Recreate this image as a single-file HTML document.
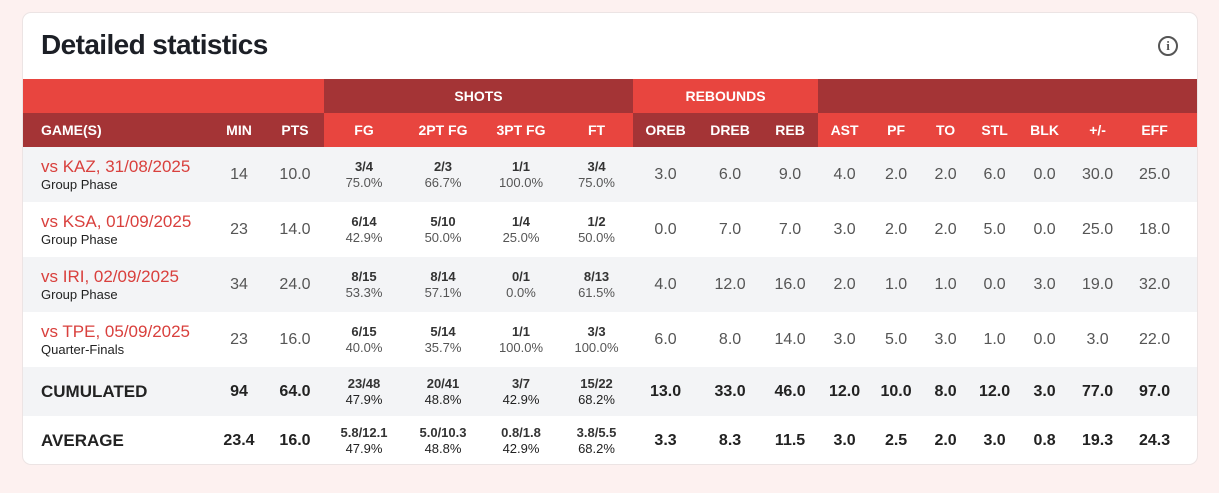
<!DOCTYPE html>
<html><head><style>
body{margin:0;width:1219px;height:493px;background:#fdf1f0;font-family:"Liberation Sans",sans-serif;overflow:hidden}
.card{position:absolute;left:22px;top:12px;width:1176px;height:453px;background:#fff;border:1px solid #ece4e4;border-radius:9px;box-sizing:border-box;overflow:hidden}
h1{position:absolute;left:18px;top:16px;margin:0;font-size:28px;font-weight:bold;color:#1c1f26;letter-spacing:-0.6px}
.info{position:absolute;left:1135px;top:23px;width:16px;height:16px;border:2px solid #555;border-radius:50%;font:bold 13px "Liberation Serif",serif;color:#555;text-align:center;line-height:16px}
table{position:absolute;left:-1px;top:66px;border-collapse:collapse;table-layout:fixed;width:1176px}
td,th{padding:0;text-align:center;color:#555;font-size:16px}
th{color:#fff;font-size:14px;font-weight:bold}
.r1 th{height:34px}.r2 th{height:34px}
.b{background:#e8453f}.d{background:#a43436}
tr.g td{height:55px}
.s{background:#f3f4f6}
.gm{text-align:left;padding-left:19px}
.gm .t{color:#d9403d;font-size:17px}
.gm .p{color:#222;font-size:13px}
.f{font-size:13px;line-height:16px}
.f b{color:#333}
.tot td{height:49px;font-weight:bold;color:#222}
.tot td.f{font-weight:normal}
.tot .gm{font-size:17px}
</style></head><body>
<div class="card">
<h1>Detailed statistics</h1>
<div class="info">i</div>
<table>
<colgroup><col style="width:190px"><col style="width:54px"><col style="width:58px"><col style="width:80px"><col style="width:78px"><col style="width:78px"><col style="width:73px"><col style="width:65px"><col style="width:64px"><col style="width:56px"><col style="width:53px"><col style="width:50px"><col style="width:49px"><col style="width:49px"><col style="width:51px"><col style="width:55px"><col style="width:73px"></colgroup>
<tr class="r1"><th class="b" colspan="3"></th><th class="d" colspan="4">SHOTS</th><th class="b" colspan="3">REBOUNDS</th><th class="d" colspan="7"></th></tr>
<tr class="r2"><th class="d gm">GAME(S)</th><th class="d">MIN</th><th class="d">PTS</th><th class="b">FG</th><th class="b">2PT FG</th><th class="b">3PT FG</th><th class="b">FT</th><th class="d">OREB</th><th class="d">DREB</th><th class="d">REB</th><th class="b">AST</th><th class="b">PF</th><th class="b">TO</th><th class="b">STL</th><th class="b">BLK</th><th class="b">+/-</th><th class="b" style="padding-right:14px">EFF</th></tr>
<tr class="g s"><td class="gm"><div class="t">vs KAZ, 31/08/2025</div><div class="p">Group Phase</div></td><td>14</td><td>10.0</td><td class="f"><b>3/4</b><br>75.0%</td><td class="f"><b>2/3</b><br>66.7%</td><td class="f"><b>1/1</b><br>100.0%</td><td class="f"><b>3/4</b><br>75.0%</td><td>3.0</td><td>6.0</td><td>9.0</td><td>4.0</td><td>2.0</td><td>2.0</td><td>6.0</td><td>0.0</td><td>30.0</td><td style="padding-right:14px">25.0</td></tr>
<tr class="g"><td class="gm"><div class="t">vs KSA, 01/09/2025</div><div class="p">Group Phase</div></td><td>23</td><td>14.0</td><td class="f"><b>6/14</b><br>42.9%</td><td class="f"><b>5/10</b><br>50.0%</td><td class="f"><b>1/4</b><br>25.0%</td><td class="f"><b>1/2</b><br>50.0%</td><td>0.0</td><td>7.0</td><td>7.0</td><td>3.0</td><td>2.0</td><td>2.0</td><td>5.0</td><td>0.0</td><td>25.0</td><td style="padding-right:14px">18.0</td></tr>
<tr class="g s"><td class="gm"><div class="t">vs IRI, 02/09/2025</div><div class="p">Group Phase</div></td><td>34</td><td>24.0</td><td class="f"><b>8/15</b><br>53.3%</td><td class="f"><b>8/14</b><br>57.1%</td><td class="f"><b>0/1</b><br>0.0%</td><td class="f"><b>8/13</b><br>61.5%</td><td>4.0</td><td>12.0</td><td>16.0</td><td>2.0</td><td>1.0</td><td>1.0</td><td>0.0</td><td>3.0</td><td>19.0</td><td style="padding-right:14px">32.0</td></tr>
<tr class="g"><td class="gm"><div class="t">vs TPE, 05/09/2025</div><div class="p">Quarter-Finals</div></td><td>23</td><td>16.0</td><td class="f"><b>6/15</b><br>40.0%</td><td class="f"><b>5/14</b><br>35.7%</td><td class="f"><b>1/1</b><br>100.0%</td><td class="f"><b>3/3</b><br>100.0%</td><td>6.0</td><td>8.0</td><td>14.0</td><td>3.0</td><td>5.0</td><td>3.0</td><td>1.0</td><td>0.0</td><td>3.0</td><td style="padding-right:14px">22.0</td></tr>
<tr class="tot s"><td class="gm">CUMULATED</td><td>94</td><td>64.0</td><td class="f"><b>23/48</b><br>47.9%</td><td class="f"><b>20/41</b><br>48.8%</td><td class="f"><b>3/7</b><br>42.9%</td><td class="f"><b>15/22</b><br>68.2%</td><td>13.0</td><td>33.0</td><td>46.0</td><td>12.0</td><td>10.0</td><td>8.0</td><td>12.0</td><td>3.0</td><td>77.0</td><td style="padding-right:14px">97.0</td></tr>
<tr class="tot"><td class="gm">AVERAGE</td><td>23.4</td><td>16.0</td><td class="f"><b>5.8/12.1</b><br>47.9%</td><td class="f"><b>5.0/10.3</b><br>48.8%</td><td class="f"><b>0.8/1.8</b><br>42.9%</td><td class="f"><b>3.8/5.5</b><br>68.2%</td><td>3.3</td><td>8.3</td><td>11.5</td><td>3.0</td><td>2.5</td><td>2.0</td><td>3.0</td><td>0.8</td><td>19.3</td><td style="padding-right:14px">24.3</td></tr>
</table>
</div>
</body></html>
